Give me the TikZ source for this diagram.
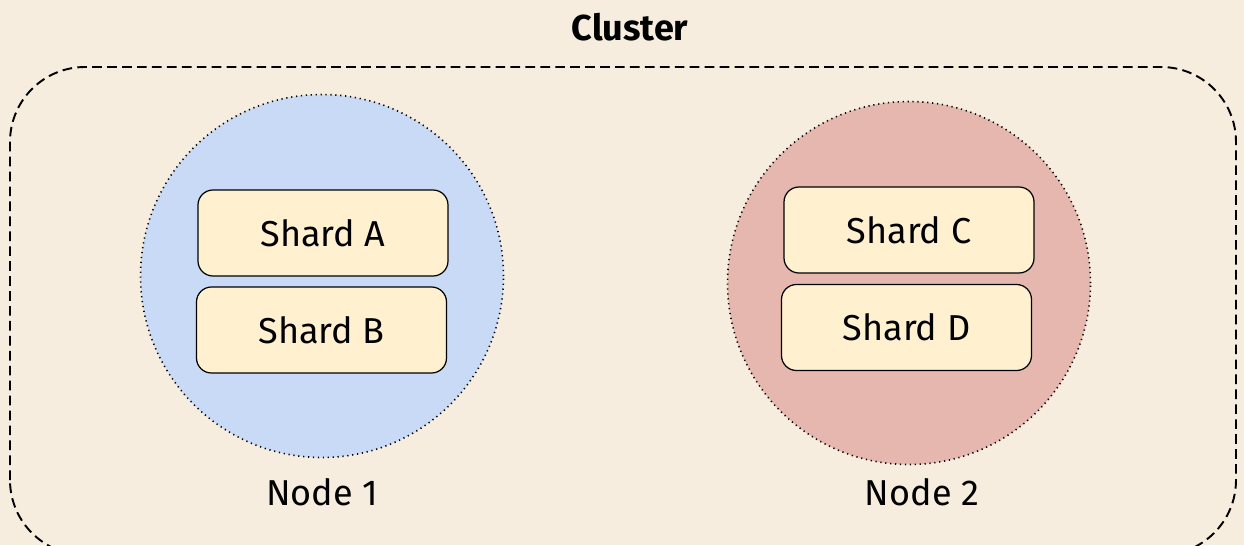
\documentclass[tikz,border=0pt]{standalone}
\usepackage{fontspec}
\setmainfont{Fira Sans}
\usepackage{tikz}
\usetikzlibrary{shapes,positioning}

\definecolor{paper}{HTML}{F6EDDF}
\definecolor{nodeblue}{HTML}{C8DAF6}
\definecolor{nodered}{HTML}{E6B7AF}
\definecolor{shardfill}{HTML}{FFF1D0}

\begin{document}
\begin{tikzpicture}[font=\fontsize{20.5}{24}\selectfont,
  server/.style={draw, circle, dash pattern=on 0.7pt off 2.1pt, line width=0.9pt, minimum size=7.26cm},
  shard/.style={draw, rounded corners=0.3cm, line width=0.7pt, fill=shardfill,
    minimum width=5.0cm, minimum height=1.72cm}]
  % Background
  \fill[paper] (0,0) rectangle (24.88,10.9);
  \useasboundingbox (0,0) rectangle (24.88,10.9);

  % Cluster
  \draw[dash pattern=on 5.5pt off 3pt, line width=1.1pt, rounded corners=1.5cm]
    (0.2,-0.2) rectangle (24.72,9.56);
  \node[font=\fontsize{20.5}{24}\selectfont\bfseries] (cluster) at (12.6,10.36) {Cluster};

  % Node 1
  \node[server, fill=nodeblue] (node1) at (6.44,5.38) {};
  \node[shard] (shardA) at (6.46,6.24) {Shard A};
  \node[shard] (shardB) at (6.43,4.30) {Shard B};
  \node (label1) at (6.44,1.06) {Node 1};

  % Node 2
  \node[server, fill=nodered] (node2) at (18.18,5.24) {};
  \node[shard] (shardC) at (18.18,6.30) {Shard C};
  \node[shard] (shardD) at (18.13,4.35) {Shard D};
  \node (label2) at (18.44,1.06) {Node 2};
\end{tikzpicture}
\end{document}
